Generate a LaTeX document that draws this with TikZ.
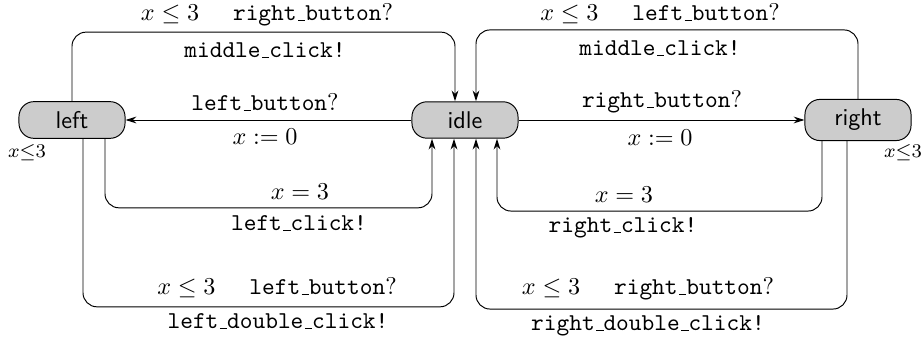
\documentclass[tikz,border=0pt]{standalone}
\usetikzlibrary{calc,arrows.meta}
\newcommand{\usc}{\leavevmode\kern.06em\vbox{\hrule width.3em}}
\newcommand{\lgap}{\hspace{14pt}}
\begin{document}
\begin{tikzpicture}[x=0.413pt,y=-0.413pt,
  state/.style={draw, fill=black!20, rounded corners=6.2pt, minimum width=43.8pt, inner sep=4pt, font=\sffamily},
  trans/.style={draw, -{Stealth[length=4.5pt,width=2.8pt]}, rounded corners=5.8pt},
  lbl/.style={anchor=base, inner sep=0pt},
  inv/.style={anchor=base, inner sep=0pt, font=\footnotesize}]
\useasboundingbox (0,0) rectangle (923,347);
\node[state] (left) at (72,120) {left};
\node[state] (idle) at (465,120) {idle};
\node[state] (right) at (858,120) {right};
% left side transitions
\draw[trans] (left.north) -- ++(0,-69) -| ($(idle.north)+(-10,0)$);
\draw[trans] (idle.west) -- (left.east);
\draw[trans] ($(left.south)+(33,0)$) -- ++(0,69) -| ($(idle.south)+(-33,0)$);
\draw[trans] ($(left.south)+(11,0)$) -- ++(0,168) -| ($(idle.south)+(-11,0)$);
% right side transitions
\draw[trans] (right.north) -- ++(0,-69) -| ($(idle.north)+(11,0)$);
\draw[trans] (idle.east) -- (right.west);
\draw[trans] ($(right.south)+(-36,0)$) -- ++(0,70) -| ($(idle.south)+(32,0)$);
\draw[trans] ($(right.south)+(-11,0)$) -- ++(0,168) -| ($(idle.south)+(11,0)$);
% labels left
\node[lbl] (tla) at (267,20.5) {$x \leq 3$\lgap\texttt{right\usc button}$?$};
\node[lbl] (tlb) at (265,58) {\texttt{middle\usc click!}};
\node[lbl] (mla) at (265,111) {\texttt{left\usc button}$?$};
\node[lbl] (mlb) at (265,145) {$x := 0$};
\node[lbl] (bla) at (300,200) {$x = 3$};
\node[lbl] (blb) at (299,231) {\texttt{left\usc click!}};
\node[lbl] (bloa) at (277,295) {$x \leq 3$\lgap\texttt{left\usc button}$?$};
\node[lbl] (blob) at (278,329) {\texttt{left\usc double\usc click!}};
% labels right
\node[lbl] (tra) at (660,20.5) {$x \leq 3$\lgap\texttt{left\usc button}$?$};
\node[lbl] (trb) at (660,56) {\texttt{middle\usc click!}};
\node[lbl] (mra) at (662,108) {\texttt{right\usc button}$?$};
\node[lbl] (mrb) at (660,146) {$x := 0$};
\node[lbl] (bra) at (624,203) {$x = 3$};
\node[lbl] (brb) at (623,233) {\texttt{right\usc click!}};
\node[lbl] (broa) at (648,295) {$x \leq 3$\lgap\texttt{right\usc button}$?$};
\node[lbl] (brob) at (648,331) {\texttt{right\usc double\usc click!}};
% invariants
\node[inv] (invl) at (27,158) {$x{\leq}3$};
\node[inv] (invr) at (903,158) {$x{\leq}3$};
\end{tikzpicture}
\end{document}
